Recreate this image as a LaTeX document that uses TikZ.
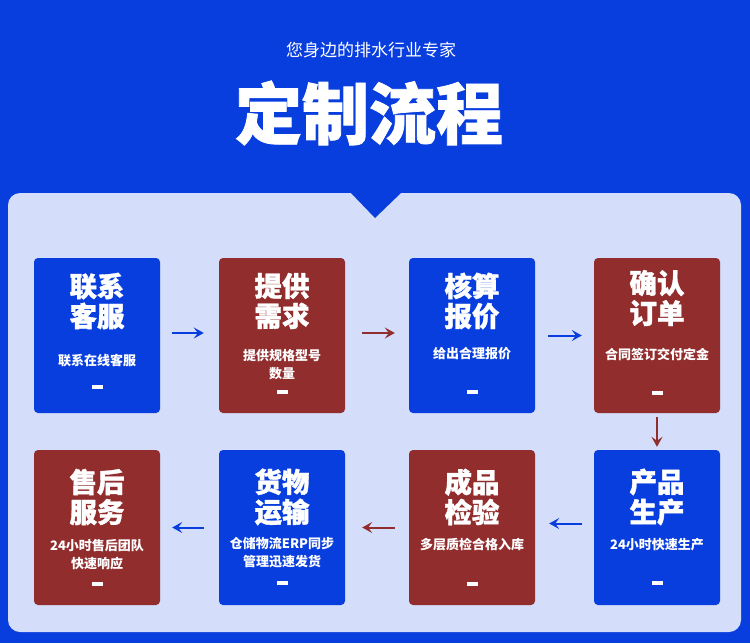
\documentclass[tikz,border=0pt]{standalone}
\usepackage{fontspec}
\newfontfamily\cjk{Noto Sans CJK SC}
\newfontfamily\cjkheavy{Noto Sans CJK SC}[FakeBold=1.2]
\usetikzlibrary{arrows.meta}
\definecolor{bgblue}{RGB}{9,62,222}
\definecolor{panel}{RGB}{212,221,250}
\definecolor{boxred}{RGB}{146,45,46}
\tikzset{
  bluebox/.style={fill=bgblue, rounded corners=4pt, minimum width=126pt, minimum height=155pt, inner sep=0pt},
  redbox/.style={bluebox, fill=boxred},
  ttl/.style={text=white, font=\cjkheavy\bfseries\fontsize{27.5}{30}\selectfont, align=center, inner sep=0pt},
  sub/.style={text=white, font=\cjk\bfseries\fontsize{13}{18}\selectfont, align=center, inner sep=0pt},
  dashmark/.style={fill=white, minimum width=11pt, minimum height=4pt, inner sep=0pt},
  barrow/.style={draw=bgblue, line width=2pt, -{Stealth[length=10pt,width=11pt,inset=4pt]}},
  rarrow/.style={barrow, draw=boxred}
}
\begin{document}
\begin{tikzpicture}[x=1pt,y=-1pt]
\fill[bgblue] (0,0) rectangle (750,643);
\useasboundingbox (0,0) rectangle (750,643);
% panel
\fill[panel, rounded corners=12pt] (8,193) rectangle (741,632);
\fill[bgblue] (350,192) -- (402,192) -- (375,218) -- cycle;
% headings
\node[text=white, font=\cjk\fontsize{17}{20}\selectfont, inner sep=0pt] (sub0) at (371,50) {您身边的排水行业专家};
\node[text=white, font=\cjkheavy\bfseries\fontsize{67}{72}\selectfont, inner sep=0pt] (main) at (369,113) {定制流程};
% boxes row 1
\node[bluebox] (b1) at (97,335.5) {};
\node[redbox]  (b2) at (282,335.5) {};
\node[bluebox] (b3) at (472,335.5) {};
\node[redbox]  (b4) at (657,335.5) {};
% boxes row 2
\node[redbox]  (b5) at (97,527.5) {};
\node[bluebox] (b6) at (282,527.5) {};
\node[redbox]  (b7) at (472,527.5) {};
\node[bluebox] (b8) at (657,527.5) {};
% titles
\node[ttl] (t1) at (97,301) {联系\\客服};
\node[ttl] (t2) at (282,301) {提供\\需求};
\node[ttl] (t3) at (472,301) {核算\\报价};
\node[ttl] (t4) at (657,298) {确认\\订单};
\node[ttl] (t5) at (97,497) {售后\\服务};
\node[ttl] (t6) at (282,497) {货物\\运输};
\node[ttl] (t7) at (472,497) {成品\\检验};
\node[ttl] (t8) at (657,497) {产品\\生产};
% subtitles
\node[sub] (s1) at (97,361) {联系在线客服};
\node[sub] (s2) at (282,365) {提供规格型号\\数量};
\node[sub] (s3) at (472,354) {给出合理报价};
\node[sub] (s4) at (657,354) {合同签订交付定金};
\node[sub] (s5) at (97,554.5) {24小时售后团队\\快速响应};
\node[sub] (s6) at (282,553) {仓储物流ERP同步\\管理迅速发货};
\node[sub] (s7) at (472,545) {多层质检合格入库};
\node[sub] (s8) at (657,545) {24小时快速生产};
% dashes
\node[dashmark] (d1) at (97,387) {};
\node[dashmark] (d2) at (282,392) {};
\node[dashmark] (d3) at (472,392) {};
\node[dashmark] (d4) at (657,393) {};
\node[dashmark] (d5) at (97,584) {};
\node[dashmark] (d6) at (282,583) {};
\node[dashmark] (d7) at (472,584) {};
\node[dashmark] (d8) at (657,583) {};
% arrows
\draw[barrow] ([xshift=12pt,yshift=2.5pt]b1.east) -- ([xshift=-15pt,yshift=2.5pt]b2.west);
\draw[rarrow] ([xshift=17pt,yshift=2.5pt]b2.east) -- ([xshift=-14pt,yshift=2.5pt]b3.west);
\draw[barrow] ([xshift=13pt,yshift=0pt]b3.east) -- ([xshift=-12pt,yshift=0pt]b4.west);
\draw[rarrow] ([yshift=-4pt]b4.south) -- ([yshift=3pt]b8.north);
\draw[barrow] ([xshift=-12pt,yshift=4pt]b8.west) -- ([xshift=14pt,yshift=4pt]b7.east);
\draw[rarrow] ([xshift=-14pt,yshift=0pt]b7.west) -- ([xshift=17pt,yshift=0pt]b6.east);
\draw[barrow] ([xshift=-15pt,yshift=0pt]b6.west) -- ([xshift=12pt,yshift=0pt]b5.east);
\end{tikzpicture}
\end{document}
